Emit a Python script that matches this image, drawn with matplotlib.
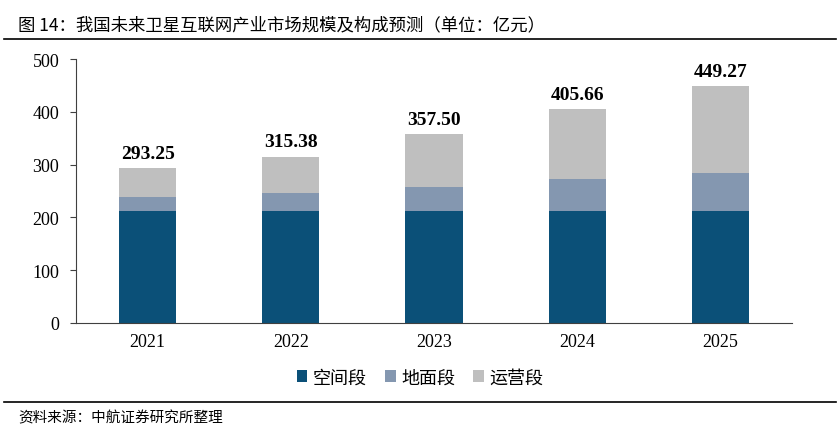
import numpy as np
import matplotlib.pyplot as plt
from matplotlib.lines import Line2D

plt.rcParams['font.family'] = ['Noto Sans CJK SC', 'DejaVu Sans']

years = ['2021', '2022', '2023', '2024', '2025']
totals = [293.25, 315.38, 357.50, 405.66, 449.27]
space_seg = [212.5, 212.5, 212.5, 212.5, 212.5]
ground_seg = [26.7, 33.0, 45.7, 60.8, 71.0]
ops_seg = [54.05, 69.88, 99.3, 132.36, 165.77]
series_names = ['空间段', '地面段', '运营段']
colors = ['#0B5078', '#8497B0', '#BFBFBF']

fig = plt.figure(figsize=(8.4, 4.39), dpi=100)
ax = fig.add_axes([0.0905, 0.262, 0.8525, 0.601])

x = np.arange(len(years))
w = 0.4
b1 = np.array(space_seg)
b2 = b1 + np.array(ground_seg)
ax.bar(x, space_seg, w, color=colors[0], label=series_names[0])
ax.bar(x, ground_seg, w, bottom=b1, color=colors[1], label=series_names[1])
ax.bar(x, ops_seg, w, bottom=b2, color=colors[2], label=series_names[2])

# total labels above each stack
for xi, t in zip(x, totals):
    ax.text(xi, t + 12, f'{t:.2f}', ha='center', va='bottom',
            fontsize=14, fontweight='bold', family='Liberation Serif')

ax.set_xlim(-0.5, 4.5)
ax.set_ylim(0, 500)
ax.set_yticks([0, 100, 200, 300, 400, 500])
ax.set_xticks(x)
ax.set_xticklabels(years)
for lab in ax.get_xticklabels() + ax.get_yticklabels():
    lab.set_family('Liberation Serif')
    lab.set_fontsize(13)
ax.tick_params(axis='x', length=0, pad=7)
ax.tick_params(axis='y', direction='out', length=4, pad=8, color='#404040')
for s in ['top', 'right']:
    ax.spines[s].set_visible(False)
ax.spines['left'].set_color('#404040')
ax.spines['bottom'].set_color('#404040')

fig.legend(loc='center', bbox_to_anchor=(0.5, 0.138), ncol=3, frameon=False,
           handlelength=0.6, handleheight=0.6, handletextpad=0.3,
           columnspacing=1.0, fontsize=13)

fig.text(0.022, 0.942, '图 14：我国未来卫星互联网产业市场规模及构成预测（单位：亿元）',
         fontsize=12.5, va='center', ha='left')
fig.add_artist(Line2D([0.005, 0.995], [0.91, 0.91], color='black', lw=1.2))
fig.add_artist(Line2D([0.005, 0.995], [0.082, 0.082], color='black', lw=1.2))
fig.text(0.022, 0.048, '资料来源：中航证券研究所整理', fontsize=10.5,
         style='italic', va='center', ha='left')

fig.savefig('out.png', dpi=100)
